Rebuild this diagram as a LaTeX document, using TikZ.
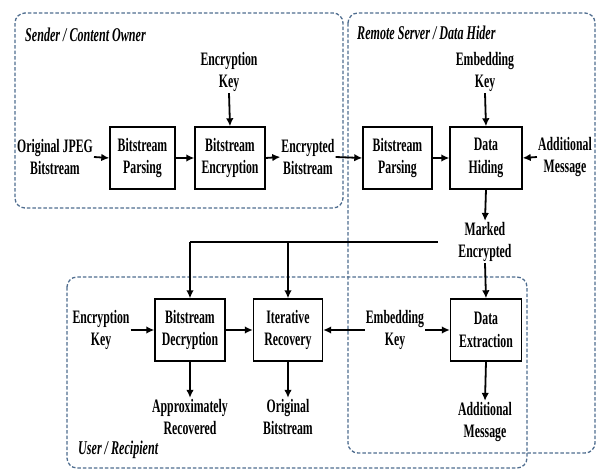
\documentclass[tikz,border=0pt]{standalone}
\usepackage{fontspec}
\setmainfont{Liberation Serif}[FakeStretch=0.62]
\usetikzlibrary{arrows.meta}
\definecolor{dashblue}{HTML}{4F6D8F}
\tikzset{
  lbl/.style={align=center, font=\fontsize{19}{22.5}\selectfont\bfseries, inner sep=1pt},
  title/.style={anchor=west, font=\fontsize{19.5}{21}\selectfont\bfseries\itshape, inner sep=0pt},
  blk/.style={draw, line width=1.4pt, minimum height=62pt, align=center, inner sep=0pt,
    font=\fontsize{19}{22.5}\selectfont\bfseries},
  grp/.style={draw=dashblue, dashed, dash pattern=on 3.5pt off 2pt, line width=1.3pt, rounded corners=10pt},
  arr/.style={line width=1.8pt, -{Latex[length=8pt,width=7.5pt]}},
  bus/.style={line width=2.8pt}
}
\begin{document}
\begin{tikzpicture}[x=1pt,y=-1pt]
\useasboundingbox (0,0) rectangle (598,472);
% group boxes
\draw[grp] (15,13) rectangle (343,208);
\draw[grp] (348,13) rectangle (595,453);
\draw[grp] (67,277) rectangle (527,468);
\node[title] (t1) at (25,35) {Sender / Content Owner};
\node[title] (t2) at (357,33) {Remote Server / Data Hider};
\node[title] (t3) at (78,450) {User / Recipient};
% top row
\node[blk, minimum width=65pt] (bp1) at (142.5,158) {Bitstream\\Parsing};
\node[blk, minimum width=70pt] (be) at (230,158) {Bitstream\\Encryption};
\node[blk, minimum width=69pt] (bp2) at (397.5,158) {Bitstream\\Parsing};
\node[blk, minimum width=72pt] (dh) at (486,158) {Data\\Hiding};
\node[lbl] (ojpeg) at (55,157) {Original JPEG\\Bitstream};
\node[lbl] (enckey) at (229,72) {Encryption\\Key};
\node[lbl] (encbs) at (308,157) {Encrypted\\Bitstream};
\node[lbl] (embkey) at (485,72) {Embedding\\Key};
\node[lbl] (addmsg) at (565,157) {Additional\\Message};
\node[lbl] (marked) at (485,242) {Marked\\Encrypted};
% bottom row
\node[blk, minimum width=70pt] (bd) at (190,330) {Bitstream\\Decryption};
\node[blk, minimum width=69pt] (ir) at (288,330) {Iterative\\Recovery};
\node[blk, minimum width=71pt] (de) at (486,330) {Data\\Extraction};
\node[lbl] (enckey2) at (101,330) {Encryption\\Key};
\node[lbl] (embkey2) at (395,330) {Embedding\\Key};
\node[lbl] (approx) at (190,417) {Approximately\\Recovered};
\node[lbl] (origbs) at (288,417) {Original\\Bitstream};
\node[lbl] (addmsg2) at (485,422) {Additional\\Message};
% connectors top
\draw[arr] (ojpeg.east) -- (bp1.west);
\draw[arr] (bp1) -- (be);
\draw[arr] (be.east) -- (encbs.west);
\draw[arr] (enckey.south) -- (be.north);
\draw[arr] (encbs.east) -- (bp2.west);
\draw[arr] (bp2) -- (dh);
\draw[arr] (embkey.south) -- (dh.north);
\draw[arr] (addmsg.west) -- (dh.east);
\draw[arr] (dh.south) -- (marked.north);
% bus
\coordinate (busL) at (190,242);
\coordinate (busR) at (438,242);
\draw[bus] (busL) -- (busR);
\draw[arr] (busL) -- (bd.north);
\draw[arr] (ir.north |- busL) -- (ir.north);
\draw[arr] (marked.south) -- (de.north);
% connectors bottom
\draw[arr] (enckey2.east) -- (bd.west);
\draw[arr] (bd) -- (ir);
\draw[arr] (embkey2.west) -- (ir.east);
\draw[arr] (embkey2.east) -- (de.west);
\draw[arr] (bd.south) -- (approx.north);
\draw[arr] (ir.south) -- (origbs.north);
\draw[arr] (de.south) -- (addmsg2.north);
\end{tikzpicture}
\end{document}
